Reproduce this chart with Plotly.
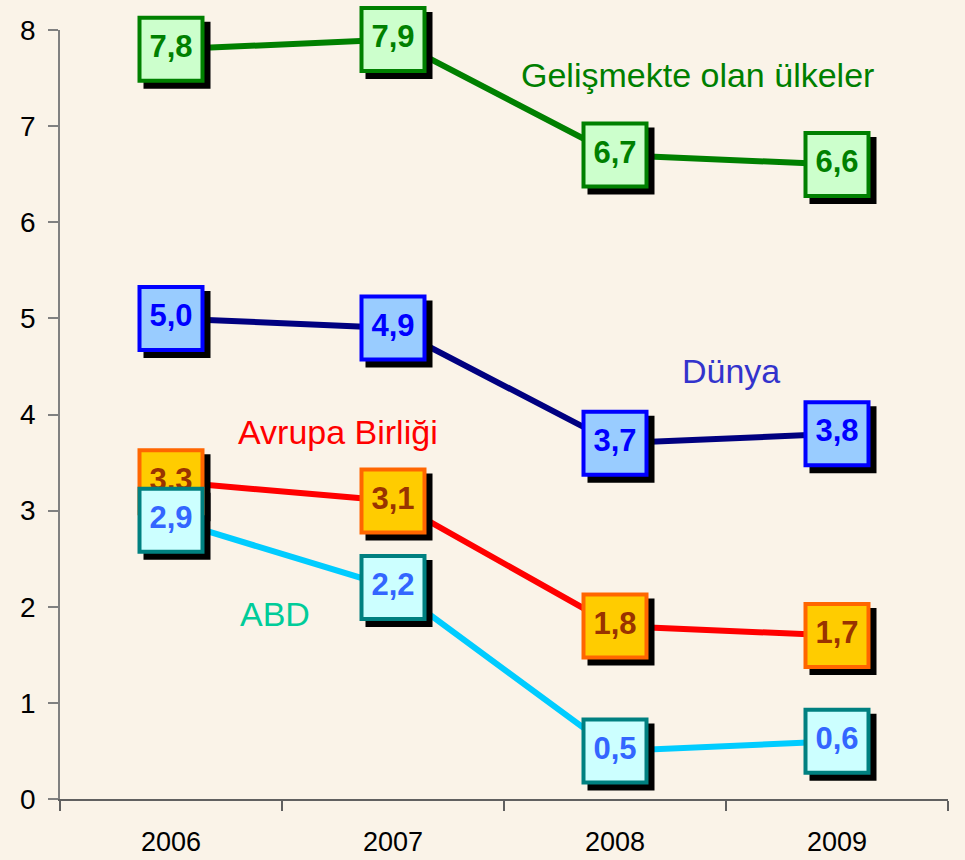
import plotly.graph_objects as go

years = ["2006", "2007", "2008", "2009"]
gelismekte = [7.8, 7.9, 6.7, 6.6]
dunya = [5.0, 4.9, 3.7, 3.8]
avrupa = [3.3, 3.1, 1.8, 1.7]
abd = [2.9, 2.2, 0.5, 0.6]

series = [
    # name, values, line color, fill, border, text color
    ("Gelişmekte olan ülkeler", gelismekte, "#008000", "#CCFFCC", "#008000", "#008000"),
    ("Dünya", dunya, "#000080", "#99CCFF", "#0000FF", "#0000FF"),
    ("Avrupa Birliği", avrupa, "#FF0000", "#FFCC00", "#FF6600", "#993300"),
    ("ABD", abd, "#00CCFF", "#CCFFFF", "#008080", "#3366FF"),
]

def fmt(v):
    return f"{v:.1f}".replace(".", ",")

W, H = 965, 860
ml, mr, mt, mb = 60, 17, 30, 61
pw = W - ml - mr
ph = H - mt - mb
xr = [-0.5, 3.5]
yr = [0, 8]
shift = 6
dx = shift / (pw / (xr[1] - xr[0]))
dy = shift / (ph / (yr[1] - yr[0]))

fig = go.Figure()
MS = 63

# layer 1: lines
for name, vals, lc, fill, bc, tc in series:
    fig.add_trace(go.Scatter(x=years, y=vals, mode="lines", line=dict(color=lc, width=6),
                             showlegend=False, hoverinfo="skip", xaxis="x", yaxis="y"))
# layer 2: shadows
for name, vals, lc, fill, bc, tc in series:
    fig.add_trace(go.Scatter(x=years, y=vals, mode="markers",
                             marker=dict(symbol="square", size=MS + 4, color="black", line=dict(width=0)),
                             showlegend=False, hoverinfo="skip", cliponaxis=False,
                             xaxis="x2", yaxis="y2"))
# layer 3: boxes
for name, vals, lc, fill, bc, tc in series:
    fig.add_trace(go.Scatter(x=years, y=vals, mode="markers+text",
                             text=[fmt(v) for v in vals], textposition="middle center",
                             textfont=dict(family="Liberation Sans", size=31, color=tc, weight="bold"),
                             marker=dict(symbol="square", size=MS, color=fill, line=dict(width=4, color=bc)),
                             showlegend=False, name=name, cliponaxis=False,
                             xaxis="x3", yaxis="y3"))

hidden = dict(visible=False, showgrid=False, zeroline=False, fixedrange=True)

fig.update_layout(
    width=W, height=H,
    margin=dict(l=ml, r=mr, t=mt, b=mb),
    paper_bgcolor="#FAF3E8",
    plot_bgcolor="rgba(0,0,0,0)",
    font=dict(family="Liberation Sans", color="black"),
    xaxis=dict(type="category", categoryorder="array", categoryarray=years, range=xr,
               showgrid=False, zeroline=False, showline=True, linecolor="#606060", linewidth=1.5,
               ticks="outside", tickson="boundaries", ticklen=10, tickcolor="#606060", tickwidth=1.5,
               tickfont=dict(size=27, family="Liberation Sans"), ticklabelstandoff=18,
               automargin=False),
    yaxis=dict(range=yr, dtick=1, showgrid=False, zeroline=False, showline=True,
               linecolor="#808080", linewidth=1.5, ticks="outside", ticklen=10,
               tickcolor="#808080", tickwidth=1.5, tickfont=dict(size=28), ticklabelstandoff=7,
               automargin=False),
    xaxis2=dict(type="category", categoryorder="array", categoryarray=years,
                range=[xr[0] - dx, xr[1] - dx], anchor="y2", overlaying="x", **hidden),
    yaxis2=dict(range=[yr[0] + dy, yr[1] + dy], anchor="x2", overlaying="y", **hidden),
    xaxis3=dict(type="category", categoryorder="array", categoryarray=years,
                range=xr, anchor="y3", overlaying="x", **hidden),
    yaxis3=dict(range=yr, anchor="x3", overlaying="y", **hidden),
)

labels = [
    ("Gelişmekte olan ülkeler", 697, 75, "#007F00"),
    ("Dünya", 731, 371, "#3333CC"),
    ("Avrupa Birliği", 338, 432, "#FF0000"),
    ("ABD", 275, 614, "#00CC99"),
]
for txt, px, py, c in labels:
    fig.add_annotation(text=txt, x=(px - ml) / pw, y=1 - (py - mt) / ph,
                       xref="paper", yref="paper",
                       showarrow=False, xanchor="center", yanchor="middle",
                       font=dict(size=34, color=c, family="Liberation Sans"))

fig.write_html("out.html", config={"displayModeBar": False},
               post_script="document.body.style.margin='0';document.body.style.background='#FAF3E8';")
